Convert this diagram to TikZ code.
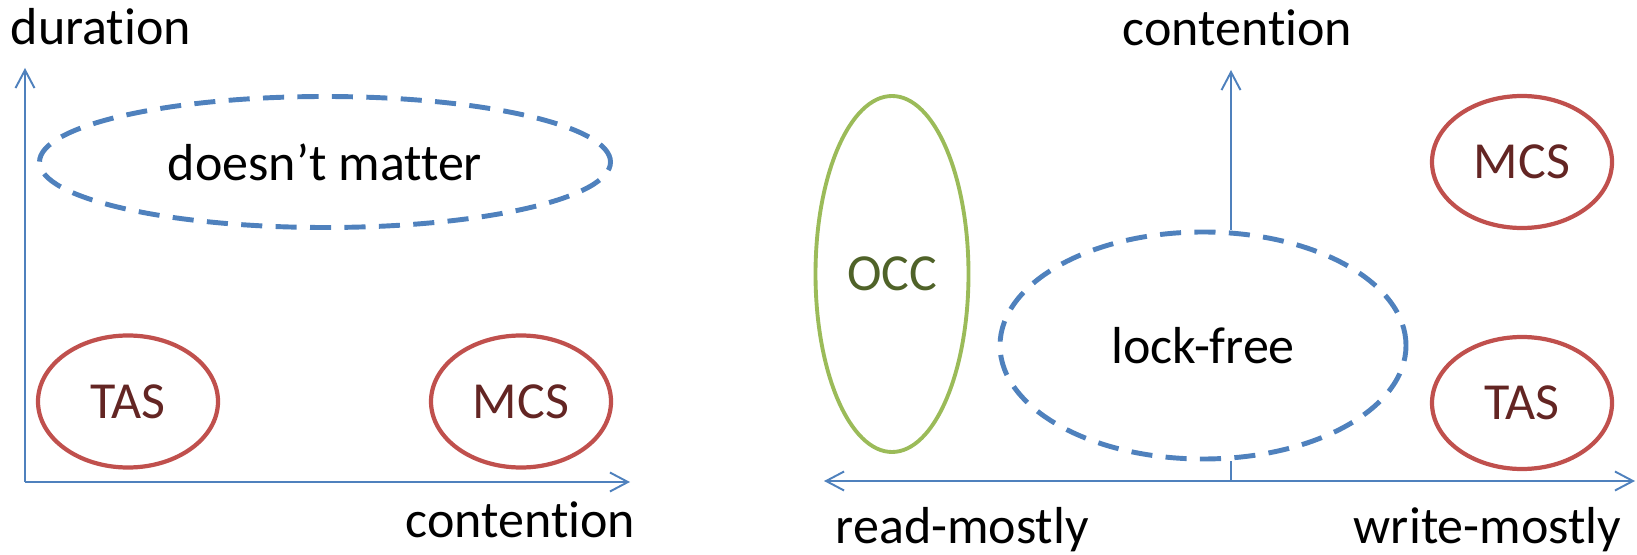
\documentclass[tikz,border=0pt]{standalone}
\usepackage{fontspec}
\setmainfont[Ligatures={NoCommon,NoContextual}]{Carlito}
\usetikzlibrary{shapes.geometric}
\usetikzlibrary{positioning,calc}
\usetikzlibrary{arrows.meta}

\definecolor{axisblue}{HTML}{4F81BD}
\definecolor{lockred}{HTML}{C0504D}
\definecolor{lockredtext}{HTML}{632523}
\definecolor{occgreen}{HTML}{9BBB59}
\definecolor{occgreentext}{HTML}{4F6228}

\tikzset{
	axis/.style={draw=axisblue, line width=0.55pt},
	axisarrow/.style={axis, -{Straight Barb[length=1.8mm,width=1.9mm]}},
	axislabel/.style={inner sep=0pt},
	lockbox/.style={ellipse, draw=lockred, line width=1.2pt, text=lockredtext, inner sep=0pt, minimum width=1.8cm, minimum height=1.32cm},
	regionbox/.style={ellipse, draw=axisblue, line width=1.4pt, dash pattern=on 6pt off 3.8pt, inner sep=0pt},
}

\begin{document}
\begin{tikzpicture}[font=\fontsize{14.8}{18}\selectfont]
				\useasboundingbox (0,0) rectangle (16.37,5.54);
				% duration vs. contention
				\coordinate (orig) at (0.25,0.72);
				\coordinate (durtip) at (0.25,4.86);
				\coordinate (contip) at (6.30,0.72);
				\draw[axisarrow] (orig) -- (durtip);
				\draw[axisarrow] (orig) -- (contip);
				\node[axislabel, anchor=base west] (durlabel) at (0.10,5.09) {duration};
				\node[axislabel, anchor=base east] (conlabel) at (6.36,0.17) {contention};
				\node[regionbox, minimum width=5.71cm, minimum height=1.31cm] (dontcare) at (3.25,3.92) {doesn’t matter};
				\node[lockbox] (tasleft) at (1.28,1.525) {TAS};
				\node[lockbox] (mcsleft) at (5.21,1.525) {MCS};
				% read/write mix vs. contention
				\coordinate (rmtip) at (8.24,0.73);
				\coordinate (wmtip) at (16.35,0.73);
				\coordinate (ctip) at (12.31,4.84);
				\draw[axis, {Straight Barb[length=1.8mm,width=1.9mm]}-{Straight Barb[length=1.8mm,width=1.9mm]}] (rmtip) -- (wmtip);
				\node[ellipse, draw=occgreen, line width=1.1pt, text=occgreentext, inner sep=0pt, minimum width=1.53cm, minimum height=3.56cm] (occ) at (8.92,2.80) {OCC};
				\node[regionbox, minimum width=4.06cm, minimum height=2.27cm] (lockfree) at (12.03,2.085) {lock-free};
				\draw[axisarrow] (ctip |- lockfree.north) -- (ctip);
				\draw[axis] (ctip |- lockfree.south) -- (ctip |- rmtip);
				\node[lockbox] (mcsright) at (15.22,3.92) {MCS};
				\node[lockbox] (tasright) at (15.22,1.51) {TAS};
				\node[axislabel, anchor=base west] (toplabel) at (11.22,5.08) {contention};
				\node[axislabel, anchor=base west] (rmlabel) at (8.35,0.11) {read-mostly};
				\node[axislabel, anchor=base east] (wmlabel) at (16.22,0.11) {write-mostly};
\end{tikzpicture}
\end{document}
